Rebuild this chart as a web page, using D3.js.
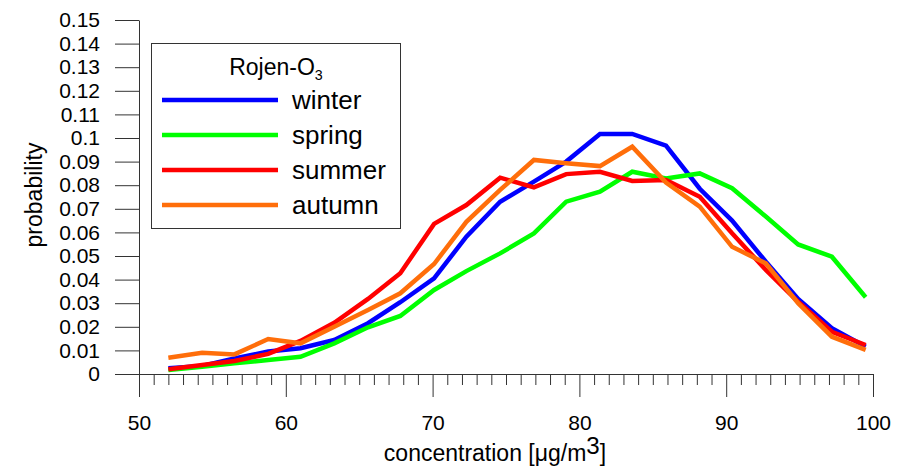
<!DOCTYPE html>
<html>
<head>
<meta charset="utf-8">
<script src="https://cdn.jsdelivr.net/npm/d3@7"></script>
<style>
  html, body { margin: 0; padding: 0; background: #fff; }
  svg { display: block; font-family: "Liberation Sans", Arial, Helvetica, sans-serif; }
</style>
</head>
<body>
<svg id="chart" width="906" height="469"></svg>
<script>
// Concentration bin centres [µg/m3]
const concentration = [52.0, 54.3, 56.5, 58.8, 61.0, 63.3, 65.6, 67.8, 70.1, 72.3, 74.6,
                       76.9, 79.1, 81.4, 83.6, 85.9, 88.2, 90.4, 92.7, 94.9, 97.2, 99.5];

// Probability per season
const winter = [0.0024, 0.0034, 0.0066, 0.0095, 0.0109, 0.0144, 0.0215, 0.0304, 0.0405, 0.0582, 0.0730,
                0.0815, 0.0900, 0.1017, 0.1017, 0.0968, 0.0785, 0.0650, 0.0476, 0.0318, 0.0194, 0.0116];
const spring = [0.0017, 0.0031, 0.0045, 0.0059, 0.0073, 0.0130, 0.0198, 0.0246, 0.0356, 0.0436, 0.0511,
                0.0596, 0.0730, 0.0773, 0.0857, 0.0829, 0.0850, 0.0787, 0.0667, 0.0549, 0.0497, 0.0325];
const summer = [0.0020, 0.0038, 0.0055, 0.0085, 0.0140, 0.0217, 0.0318, 0.0427, 0.0636, 0.0716, 0.0832,
                0.0791, 0.0847, 0.0857, 0.0818, 0.0822, 0.0751, 0.0596, 0.0441, 0.0306, 0.0179, 0.0123];
const autumn = [0.0069, 0.0090, 0.0083, 0.0148, 0.0130, 0.0200, 0.0271, 0.0342, 0.0466, 0.0645, 0.0780,
                0.0907, 0.0893, 0.0881, 0.0963, 0.0811, 0.0709, 0.0539, 0.0469, 0.0300, 0.0158, 0.0102];

const seasonNames = ["winter", "spring", "summer", "autumn"];
const seasonColors = ["#0000ff", "#00ff00", "#ff0000", "#ff6e0a"];
const seasonValues = [winter, spring, summer, autumn];

const yTicks = [0, 0.01, 0.02, 0.03, 0.04, 0.05, 0.06, 0.07, 0.08, 0.09, 0.1, 0.11, 0.12, 0.13, 0.14, 0.15];
const xMajorTicks = [50, 60, 70, 80, 90, 100];
const xMinorTicks = d3.range(50, 101, 1).filter(v => v % 10 !== 0);

const svg = d3.select("#chart");
const tickFont = 21;
const titleFont = 23;
const legendFont = 26;
const axisColor = "#333";

const x = d3.scaleLinear().domain([50, 100]).range([139, 873]);
const y = d3.scaleLinear().domain([0, 0.15]).range([374, 20]);

// Y axis
svg.append("g")
  .attr("transform", `translate(${x(50)},0)`)
  .call(d3.axisLeft(y).tickValues(yTicks).tickSize(24).tickSizeOuter(0).tickPadding(15)
        .tickFormat(d => d3.format("")(+d.toFixed(2))));
// X axis: minor ticks, then major ticks with labels
svg.append("g")
  .attr("transform", `translate(0,${y(0)})`)
  .call(d3.axisBottom(x).tickValues(xMinorTicks).tickSize(11).tickSizeOuter(0).tickFormat(""))
  .call(g => g.select(".domain").remove());
svg.append("g")
  .attr("transform", `translate(0,${y(0)})`)
  .call(d3.axisBottom(x).tickValues(xMajorTicks).tickSize(23).tickSizeOuter(0).tickPadding(18));

svg.selectAll(".tick line, .domain").attr("stroke", axisColor).attr("stroke-width", 1);
svg.selectAll(".tick text").attr("font-size", tickFont).attr("font-family", null).attr("fill", "#000");

// Axis titles
svg.append("text")
  .attr("transform", "translate(42,195) rotate(-90)")
  .attr("text-anchor", "middle")
  .attr("font-size", titleFont)
  .text("probability");

const xTitle = svg.append("text")
  .attr("x", 495).attr("y", 461)
  .attr("text-anchor", "middle")
  .attr("font-size", titleFont);
xTitle.append("tspan").text("concentration [\u03bcg/m");
xTitle.append("tspan").attr("dy", -7).attr("font-size", titleFont * 1.05).text("3");
xTitle.append("tspan").attr("dy", 7).text("]");

// Season curves
const line = d3.line()
  .x((d, i) => x(concentration[i]))
  .y(d => y(d));

svg.append("g").selectAll("path")
  .data(seasonValues)
  .join("path")
  .attr("d", line)
  .attr("fill", "none")
  .attr("stroke", (d, i) => seasonColors[i])
  .attr("stroke-width", 4.5)
  .attr("stroke-linejoin", "miter");

// Legend
const legend = svg.append("g");
legend.append("rect")
  .attr("x", 151.5).attr("y", 43.5).attr("width", 249).attr("height", 185)
  .attr("fill", "#fff").attr("stroke", axisColor).attr("stroke-width", 1);
const legendTitle = legend.append("text")
  .attr("x", 276).attr("y", 75)
  .attr("text-anchor", "middle")
  .attr("font-size", titleFont);
legendTitle.append("tspan").text("Rojen-O");
legendTitle.append("tspan").attr("dy", 5).attr("font-size", titleFont * 0.62).text("3");

const rowY = d3.scalePoint().domain(seasonNames).range([100, 205]);
seasonNames.forEach((name, i) => {
  legend.append("line")
    .attr("x1", 162).attr("x2", 278)
    .attr("y1", rowY(name)).attr("y2", rowY(name))
    .attr("stroke", seasonColors[i]).attr("stroke-width", 4.5);
  legend.append("text")
    .attr("x", 292).attr("y", rowY(name) + 9)
    .attr("font-size", legendFont)
    .text(name);
});
</script>
</body>
</html>
